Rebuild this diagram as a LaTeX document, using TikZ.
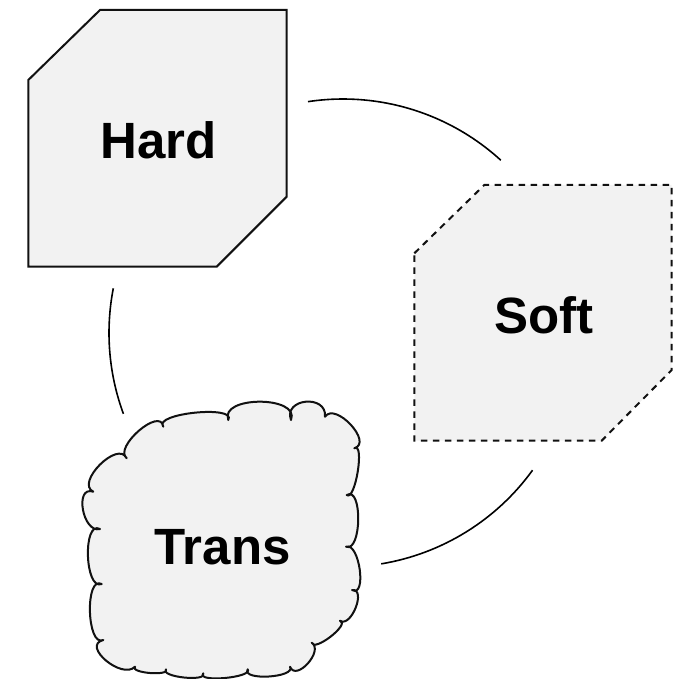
\documentclass[tikz,border=0pt]{standalone}
\usepackage{fontspec}
\setmainfont{Liberation Sans}
\usetikzlibrary{calc}
\definecolor{shapefill}{HTML}{F2F2F2}
\definecolor{edgecol}{HTML}{111111}
\tikzset{
  hardbox/.style={draw=edgecol, fill=shapefill, line width=2pt, line join=miter},
  softbox/.style={draw=edgecol, fill=shapefill, line width=2pt, dash pattern=on 6.5pt off 5.5pt},
  cloudbox/.style={draw=edgecol, fill=shapefill, line width=2pt, line join=round},
  ringarc/.style={draw=black, line width=1.6pt},
  lbl/.style={font=\fontsize{51}{60}\selectfont\bfseries, text=black, anchor=base, inner sep=0pt}
}
\newcommand\cb[3]{.. controls ($0.483*(#1)+1.333*(#2)-0.817*(#3)$) and ($0.483*(#3)+1.333*(#2)-0.817*(#1)$) .. (#3)}
\begin{document}
\begin{tikzpicture}[x=1pt,y=-1pt]
\useasboundingbox (0,0) rectangle (690,679);
% Hard
\draw[hardbox] (28.3,80) -- (100,10) -- (286.7,10) -- (286.7,196.7) -- (216.7,266.7) -- (28.3,266.7) -- cycle;
\node[lbl] (hard) at (158.3,158.3) {Hard};
% Soft
\draw[softbox] (414.3,253.3) -- (484.3,185) -- (671.7,185) -- (671.7,370) -- (601.7,440.7) -- (414.3,440.7) -- cycle;
\node[lbl] (soft) at (544.2,333.3) {Soft};
% Trans cloud
\draw[cloudbox] (126.7,458.3)
  \cb{126.7,458.3}{139,431}{163.3,426.7}
  \cb{163.3,426.7}{195,413}{228.3,420}
  \cb{228.3,420}{260,402}{291,420}
  \cb{291,420}{306,402}{325,416.7}
  \cb{325,416.7}{351,425}{354.3,448.3}
  \cb{354.3,448.3}{358,472}{346.7,495}
  \cb{346.7,495}{358.5,520}{346,546.7}
  \cb{346,546.7}{360,570}{352,590}
  \cb{352,590}{356,608}{340,620.7}
  \cb{340,620.7}{331,637}{311.7,642.7}
  \cb{311.7,642.7}{308,664}{290,666.7}
  \cb{290,666.7}{269,677}{247.7,669.3}
  \cb{247.7,669.3}{225,678.5}{203.3,673.3}
  \cb{203.3,673.3}{184,678}{166,669.3}
  \cb{166,669.3}{150,673.5}{135,666.7}
  \cb{135,666.7}{106,661}{103.3,640}
  \cb{103.3,640}{90,612}{101.7,584}
  \cb{101.7,584}{88,556}{100,529}
  \cb{100,529}{83,510}{93.3,491.7}
  \cb{93.3,491.7}{100,465}{126.7,458.3}
  -- cycle;
\node[lbl] (trans) at (222.5,564) {Trans};
% ring arcs
\coordinate (ringc) at (343,333);
\coordinate (a1) at ($(ringc)+(-98.6:234)$);
\coordinate (a2) at ($(ringc)+(35.9:234)$);
\coordinate (a3) at ($(ringc)+(159.8:234)$);
\draw[ringarc] (a1) arc[start angle=-98.6, end angle=-47.6, radius=234];
\draw[ringarc] (a2) arc[start angle=35.9, end angle=80.6, radius=234];
\draw[ringarc] (a3) arc[start angle=159.8, end angle=191, radius=234];
\end{tikzpicture}
\end{document}
